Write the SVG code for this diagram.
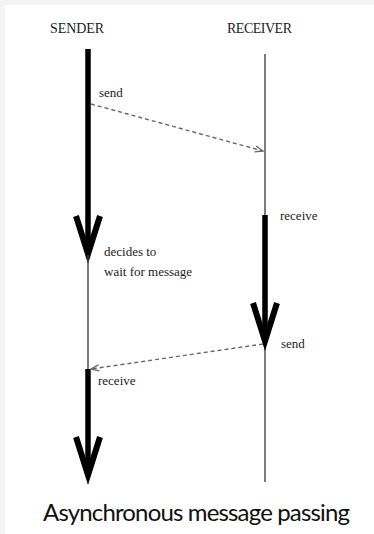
<svg xmlns="http://www.w3.org/2000/svg" width="374" height="534" viewBox="0 0 374 534">
<style>
.lbl{font-family:"Liberation Serif","Times New Roman",serif;font-size:13px;fill:#222}
.hdr{font-family:"Liberation Serif","Times New Roman",serif;font-size:14px;fill:#222}
.thin{stroke:#444;stroke-width:1.4;fill:none}
.thick{stroke:#000;stroke-width:5.5;fill:none}
.head{stroke:#000;stroke-width:6;fill:none;stroke-linejoin:miter;stroke-miterlimit:10;stroke-linecap:butt}
.msg{stroke:#666;stroke-width:1.4;stroke-dasharray:4 3;fill:none}
.cap{font-family:Lato,"Open Sans",sans-serif;font-size:24px;fill:#111}
</style>
<defs>
<marker id="oa" markerWidth="10" markerHeight="8" refX="9" refY="4" orient="auto" markerUnits="userSpaceOnUse">
<path d="M1,1 L9,4 L1,7" fill="none" stroke="#666" stroke-width="1.3"/>
</marker>
</defs>
<rect width="374" height="534" fill="#f4f4f4"/>
<rect x="5" y="5" width="369" height="529" fill="#fff"/>
<g id="sender">
<text class="hdr" x="50" y="33" textLength="54">SENDER</text>
<line class="thick" x1="88" y1="49" x2="88" y2="252"/>
<path class="head" d="M76,216 L88,254 L100,216"/>
<line class="thin" x1="88" y1="255" x2="88" y2="369"/>
<line class="thick" x1="88" y1="369" x2="88" y2="474"/>
<path class="head" d="M76,437 L88,475 L100,437"/>
</g>
<g id="receiver">
<text class="hdr" x="227" y="33" textLength="65">RECEIVER</text>
<line class="thin" x1="265" y1="54" x2="265" y2="482"/>
<line class="thick" x1="265" y1="215" x2="265" y2="340"/>
<path class="head" d="M253,303 L265,341 L277,303"/>
</g>
<g id="connectors">
<line class="msg" x1="91" y1="104" x2="263" y2="151" marker-end="url(#oa)"/>
<line class="msg" x1="263" y1="344" x2="91" y2="369" marker-end="url(#oa)"/>
</g>
<g id="labels">
<text class="lbl" x="99" y="97">send</text>
<text class="lbl" x="104" y="256">decides to</text>
<text class="lbl" x="104" y="276">wait for message</text>
<text class="lbl" x="280" y="220">receive</text>
<text class="lbl" x="281" y="348">send</text>
<text class="lbl" x="98" y="385">receive</text>
</g>
<text class="cap" x="43" y="521" textLength="307">Asynchronous message passing</text>
</svg>
